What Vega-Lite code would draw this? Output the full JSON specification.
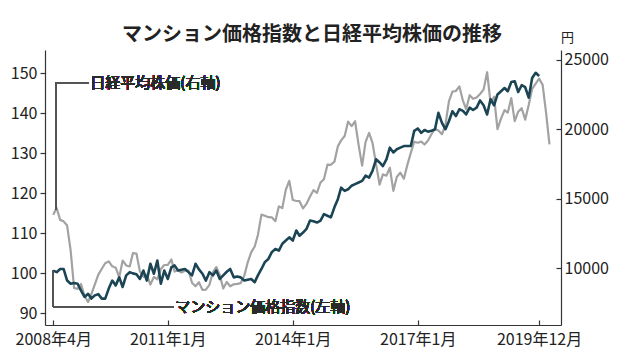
{
  "$schema": "https://vega.github.io/schema/vega-lite/v6.json",
  "width": 516,
  "height": 275,
  "autosize": {"type": "none"},
  "padding": {"left": 45, "top": 50, "right": 68, "bottom": 28},
  "background": "white",
  "config": {
    "view": {"stroke": null},
    "font": "Liberation Sans Narrow, Noto Sans CJK JP, sans-serif",
    "axis": {
      "domainColor": "#333",
      "tickColor": "#333",
      "labelColor": "#222",
      "labelFontSize": 16,
      "labelFont": "Liberation Sans Narrow, Noto Sans CJK JP, sans-serif",
      "grid": false,
      "domainWidth": 1.2,
      "tickWidth": 1.2
    }
  },
  "title": {
    "text": "マンション価格指数と日経平均株価の推移",
    "font": "Noto Sans CJK JP",
    "fontSize": 20,
    "fontWeight": "bold",
    "color": "#222",
    "anchor": "middle",
    "dx": 9,
    "dy": 20,
    "offset": 6
  },
  "datasets": {
    "nikkei": [
      {"date": "2008-04-01", "yen": 13849}, {"date": "2008-05-01", "yen": 14338}, {"date": "2008-06-01", "yen": 13481}, {"date": "2008-07-01", "yen": 13376}, {"date": "2008-08-01", "yen": 13072}, {"date": "2008-09-01", "yen": 11259}, {"date": "2008-10-01", "yen": 8576}, {"date": "2008-11-01", "yen": 8512}, {"date": "2008-12-01", "yen": 8859},
      {"date": "2009-01-01", "yen": 7994}, {"date": "2009-02-01", "yen": 7568}, {"date": "2009-03-01", "yen": 8109}, {"date": "2009-04-01", "yen": 8828}, {"date": "2009-05-01", "yen": 9522}, {"date": "2009-06-01", "yen": 9958}, {"date": "2009-07-01", "yen": 10356}, {"date": "2009-08-01", "yen": 10492}, {"date": "2009-09-01", "yen": 10133}, {"date": "2009-10-01", "yen": 10034}, {"date": "2009-11-01", "yen": 9345}, {"date": "2009-12-01", "yen": 10546},
      {"date": "2010-01-01", "yen": 10198}, {"date": "2010-02-01", "yen": 10126}, {"date": "2010-03-01", "yen": 11089}, {"date": "2010-04-01", "yen": 11057}, {"date": "2010-05-01", "yen": 9768}, {"date": "2010-06-01", "yen": 9382}, {"date": "2010-07-01", "yen": 9537}, {"date": "2010-08-01", "yen": 8824}, {"date": "2010-09-01", "yen": 9369}, {"date": "2010-10-01", "yen": 9202}, {"date": "2010-11-01", "yen": 9937}, {"date": "2010-12-01", "yen": 10228},
      {"date": "2011-01-01", "yen": 10237}, {"date": "2011-02-01", "yen": 10624}, {"date": "2011-03-01", "yen": 9755}, {"date": "2011-04-01", "yen": 9849}, {"date": "2011-05-01", "yen": 9693}, {"date": "2011-06-01", "yen": 9816}, {"date": "2011-07-01", "yen": 9833}, {"date": "2011-08-01", "yen": 8955}, {"date": "2011-09-01", "yen": 8700}, {"date": "2011-10-01", "yen": 8988}, {"date": "2011-11-01", "yen": 8434}, {"date": "2011-12-01", "yen": 8455},
      {"date": "2012-01-01", "yen": 8802}, {"date": "2012-02-01", "yen": 9723}, {"date": "2012-03-01", "yen": 10083}, {"date": "2012-04-01", "yen": 9520}, {"date": "2012-05-01", "yen": 8542}, {"date": "2012-06-01", "yen": 9006}, {"date": "2012-07-01", "yen": 8695}, {"date": "2012-08-01", "yen": 8839}, {"date": "2012-09-01", "yen": 8870}, {"date": "2012-10-01", "yen": 8928}, {"date": "2012-11-01", "yen": 9446}, {"date": "2012-12-01", "yen": 10395},
      {"date": "2013-01-01", "yen": 11138}, {"date": "2013-02-01", "yen": 11559}, {"date": "2013-03-01", "yen": 12397}, {"date": "2013-04-01", "yen": 13860}, {"date": "2013-05-01", "yen": 13774}, {"date": "2013-06-01", "yen": 13677}, {"date": "2013-07-01", "yen": 13668}, {"date": "2013-08-01", "yen": 13388}, {"date": "2013-09-01", "yen": 14455}, {"date": "2013-10-01", "yen": 14327}, {"date": "2013-11-01", "yen": 15661}, {"date": "2013-12-01", "yen": 16291},
      {"date": "2014-01-01", "yen": 14914}, {"date": "2014-02-01", "yen": 14841}, {"date": "2014-03-01", "yen": 14827}, {"date": "2014-04-01", "yen": 14304}, {"date": "2014-05-01", "yen": 14632}, {"date": "2014-06-01", "yen": 15162}, {"date": "2014-07-01", "yen": 15620}, {"date": "2014-08-01", "yen": 15424}, {"date": "2014-09-01", "yen": 16173}, {"date": "2014-10-01", "yen": 16413}, {"date": "2014-11-01", "yen": 17459}, {"date": "2014-12-01", "yen": 17450},
      {"date": "2015-01-01", "yen": 17674}, {"date": "2015-02-01", "yen": 18797}, {"date": "2015-03-01", "yen": 19206}, {"date": "2015-04-01", "yen": 19520}, {"date": "2015-05-01", "yen": 20563}, {"date": "2015-06-01", "yen": 20235}, {"date": "2015-07-01", "yen": 20585}, {"date": "2015-08-01", "yen": 18890}, {"date": "2015-09-01", "yen": 17388}, {"date": "2015-10-01", "yen": 19083}, {"date": "2015-11-01", "yen": 19747}, {"date": "2015-12-01", "yen": 19033},
      {"date": "2016-01-01", "yen": 17518}, {"date": "2016-02-01", "yen": 16026}, {"date": "2016-03-01", "yen": 16758}, {"date": "2016-04-01", "yen": 16666}, {"date": "2016-05-01", "yen": 17235}, {"date": "2016-06-01", "yen": 15575}, {"date": "2016-07-01", "yen": 16569}, {"date": "2016-08-01", "yen": 16887}, {"date": "2016-09-01", "yen": 16449}, {"date": "2016-10-01", "yen": 17425}, {"date": "2016-11-01", "yen": 18308}, {"date": "2016-12-01", "yen": 19114},
      {"date": "2017-01-01", "yen": 19041}, {"date": "2017-02-01", "yen": 19118}, {"date": "2017-03-01", "yen": 18909}, {"date": "2017-04-01", "yen": 19196}, {"date": "2017-05-01", "yen": 19650}, {"date": "2017-06-01", "yen": 20033}, {"date": "2017-07-01", "yen": 19925}, {"date": "2017-08-01", "yen": 19646}, {"date": "2017-09-01", "yen": 20356}, {"date": "2017-10-01", "yen": 22011}, {"date": "2017-11-01", "yen": 22724}, {"date": "2017-12-01", "yen": 22764},
      {"date": "2018-01-01", "yen": 23098}, {"date": "2018-02-01", "yen": 22068}, {"date": "2018-03-01", "yen": 21454}, {"date": "2018-04-01", "yen": 22467}, {"date": "2018-05-01", "yen": 22202}, {"date": "2018-06-01", "yen": 22305}, {"date": "2018-07-01", "yen": 22554}, {"date": "2018-08-01", "yen": 22865}, {"date": "2018-09-01", "yen": 24120}, {"date": "2018-10-01", "yen": 21920}, {"date": "2018-11-01", "yen": 22351}, {"date": "2018-12-01", "yen": 20015},
      {"date": "2019-01-01", "yen": 20773}, {"date": "2019-02-01", "yen": 21385}, {"date": "2019-03-01", "yen": 21206}, {"date": "2019-04-01", "yen": 22259}, {"date": "2019-05-01", "yen": 20601}, {"date": "2019-06-01", "yen": 21276}, {"date": "2019-07-01", "yen": 21522}, {"date": "2019-08-01", "yen": 20704}, {"date": "2019-09-01", "yen": 21756}, {"date": "2019-10-01", "yen": 22927}, {"date": "2019-11-01", "yen": 23294}, {"date": "2019-12-01", "yen": 23656},
      {"date": "2020-01-01", "yen": 23205}, {"date": "2020-02-01", "yen": 21143}, {"date": "2020-03-01", "yen": 18917}
    ],
    "index": [
      {"date": "2008-04-01", "idx": 100.7}, {"date": "2008-05-01", "idx": 100.3}, {"date": "2008-06-01", "idx": 101.1}, {"date": "2008-07-01", "idx": 101.1}, {"date": "2008-08-01", "idx": 98.2}, {"date": "2008-09-01", "idx": 97.4}, {"date": "2008-10-01", "idx": 97.6}, {"date": "2008-11-01", "idx": 97.4}, {"date": "2008-12-01", "idx": 95.7},
      {"date": "2009-01-01", "idx": 94.1}, {"date": "2009-02-01", "idx": 94.9}, {"date": "2009-03-01", "idx": 93.7}, {"date": "2009-04-01", "idx": 94.5}, {"date": "2009-05-01", "idx": 94.8}, {"date": "2009-06-01", "idx": 93.7}, {"date": "2009-07-01", "idx": 93.7}, {"date": "2009-08-01", "idx": 96.2}, {"date": "2009-09-01", "idx": 98.2}, {"date": "2009-10-01", "idx": 97.0}, {"date": "2009-11-01", "idx": 99.0}, {"date": "2009-12-01", "idx": 96.6},
      {"date": "2010-01-01", "idx": 99.5}, {"date": "2010-02-01", "idx": 100.3}, {"date": "2010-03-01", "idx": 100.0}, {"date": "2010-04-01", "idx": 99.8}, {"date": "2010-05-01", "idx": 98.6}, {"date": "2010-06-01", "idx": 100.7}, {"date": "2010-07-01", "idx": 98.2}, {"date": "2010-08-01", "idx": 102.4}, {"date": "2010-09-01", "idx": 99.9}, {"date": "2010-10-01", "idx": 103.2}, {"date": "2010-11-01", "idx": 97.4}, {"date": "2010-12-01", "idx": 100.7},
      {"date": "2011-01-01", "idx": 98.6}, {"date": "2011-02-01", "idx": 101.5}, {"date": "2011-03-01", "idx": 102.0}, {"date": "2011-04-01", "idx": 100.7}, {"date": "2011-05-01", "idx": 100.9}, {"date": "2011-06-01", "idx": 101.1}, {"date": "2011-07-01", "idx": 100.3}, {"date": "2011-08-01", "idx": 99.5}, {"date": "2011-09-01", "idx": 102.4}, {"date": "2011-10-01", "idx": 101.0}, {"date": "2011-11-01", "idx": 99.9}, {"date": "2011-12-01", "idx": 98.2},
      {"date": "2012-01-01", "idx": 100.3}, {"date": "2012-02-01", "idx": 99.5}, {"date": "2012-03-01", "idx": 100.7}, {"date": "2012-04-01", "idx": 98.6}, {"date": "2012-05-01", "idx": 99.5}, {"date": "2012-06-01", "idx": 100.4}, {"date": "2012-07-01", "idx": 101.1}, {"date": "2012-08-01", "idx": 99.0}, {"date": "2012-09-01", "idx": 99.2}, {"date": "2012-10-01", "idx": 99.0}, {"date": "2012-11-01", "idx": 98.2}, {"date": "2012-12-01", "idx": 98.4},
      {"date": "2013-01-01", "idx": 98.6}, {"date": "2013-02-01", "idx": 97.8}, {"date": "2013-03-01", "idx": 99.5}, {"date": "2013-04-01", "idx": 101.1}, {"date": "2013-05-01", "idx": 102.8}, {"date": "2013-06-01", "idx": 103.6}, {"date": "2013-07-01", "idx": 105.3}, {"date": "2013-08-01", "idx": 106.1}, {"date": "2013-09-01", "idx": 105.7}, {"date": "2013-10-01", "idx": 107.4}, {"date": "2013-11-01", "idx": 108.2}, {"date": "2013-12-01", "idx": 109.0},
      {"date": "2014-01-01", "idx": 108.2}, {"date": "2014-02-01", "idx": 110.7}, {"date": "2014-03-01", "idx": 109.4}, {"date": "2014-04-01", "idx": 110.2}, {"date": "2014-05-01", "idx": 111.1}, {"date": "2014-06-01", "idx": 113.2}, {"date": "2014-07-01", "idx": 113.0}, {"date": "2014-08-01", "idx": 112.7}, {"date": "2014-09-01", "idx": 113.2}, {"date": "2014-10-01", "idx": 114.8}, {"date": "2014-11-01", "idx": 114.4}, {"date": "2014-12-01", "idx": 114.0},
      {"date": "2015-01-01", "idx": 116.5}, {"date": "2015-02-01", "idx": 118.6}, {"date": "2015-03-01", "idx": 121.4}, {"date": "2015-04-01", "idx": 120.6}, {"date": "2015-05-01", "idx": 121.0}, {"date": "2015-06-01", "idx": 121.9}, {"date": "2015-07-01", "idx": 122.3}, {"date": "2015-08-01", "idx": 122.7}, {"date": "2015-09-01", "idx": 123.1}, {"date": "2015-10-01", "idx": 124.4}, {"date": "2015-11-01", "idx": 123.9}, {"date": "2015-12-01", "idx": 125.6},
      {"date": "2016-01-01", "idx": 128.5}, {"date": "2016-02-01", "idx": 127.7}, {"date": "2016-03-01", "idx": 126.8}, {"date": "2016-04-01", "idx": 128.5}, {"date": "2016-05-01", "idx": 131.4}, {"date": "2016-06-01", "idx": 130.2}, {"date": "2016-07-01", "idx": 131.0}, {"date": "2016-08-01", "idx": 131.4}, {"date": "2016-09-01", "idx": 131.8}, {"date": "2016-10-01", "idx": 131.8}, {"date": "2016-11-01", "idx": 131.8}, {"date": "2016-12-01", "idx": 135.6},
      {"date": "2017-01-01", "idx": 136.2}, {"date": "2017-02-01", "idx": 135.1}, {"date": "2017-03-01", "idx": 135.8}, {"date": "2017-04-01", "idx": 135.4}, {"date": "2017-05-01", "idx": 135.6}, {"date": "2017-06-01", "idx": 136.0}, {"date": "2017-07-01", "idx": 140.1}, {"date": "2017-08-01", "idx": 137.6}, {"date": "2017-09-01", "idx": 136.0}, {"date": "2017-10-01", "idx": 138.0}, {"date": "2017-11-01", "idx": 140.5}, {"date": "2017-12-01", "idx": 139.3},
      {"date": "2018-01-01", "idx": 141.0}, {"date": "2018-02-01", "idx": 140.6}, {"date": "2018-03-01", "idx": 139.7}, {"date": "2018-04-01", "idx": 141.4}, {"date": "2018-05-01", "idx": 140.8}, {"date": "2018-06-01", "idx": 141.4}, {"date": "2018-07-01", "idx": 143.2}, {"date": "2018-08-01", "idx": 142.0}, {"date": "2018-09-01", "idx": 139.7}, {"date": "2018-10-01", "idx": 143.5}, {"date": "2018-11-01", "idx": 142.0}, {"date": "2018-12-01", "idx": 144.7},
      {"date": "2019-01-01", "idx": 145.5}, {"date": "2019-02-01", "idx": 146.3}, {"date": "2019-03-01", "idx": 145.5}, {"date": "2019-04-01", "idx": 147.8}, {"date": "2019-05-01", "idx": 148.0}, {"date": "2019-06-01", "idx": 145.3}, {"date": "2019-07-01", "idx": 147.0}, {"date": "2019-08-01", "idx": 146.5}, {"date": "2019-09-01", "idx": 143.9}, {"date": "2019-10-01", "idx": 148.8}, {"date": "2019-11-01", "idx": 150.1}, {"date": "2019-12-01", "idx": 149.3}
    ]
  },
  "layer": [
    {
      "data": {"name": "nikkei"},
      "layer": [
        {
          "mark": {"type": "line", "color": "#a2a2a2", "strokeWidth": 2.2, "strokeJoin": "round"},
          "encoding": {
            "x": {
              "field": "date", "type": "temporal",
              "scale": {"domain": [{"year": 2008, "month": 1, "date": 20}, {"year": 2020, "month": 6, "date": 10}]},
              "axis": {
                "title": null,
                "values": [{"year": 2008, "month": 4, "date": 1}, {"year": 2011, "month": 1, "date": 1}, {"year": 2014, "month": 1, "date": 1}, {"year": 2017, "month": 1, "date": 1}, {"year": 2019, "month": 12, "date": 1}],
                "labelExpr": "timeFormat(datum.value, '%Y') + '年' + (month(datum.value) + 1) + '月'",
                "tickSize": -5,
                "labelPadding": 11,
                "labelFlush": false
              }
            },
            "y": {
              "field": "yen", "type": "quantitative",
              "scale": {"domain": [5907, 25720], "nice": false, "zero": false},
              "axis": {
                "orient": "right",
                "values": [10000, 15000, 20000, 25000],
                "format": "d",
                "tickSize": -5,
                "labelPadding": 8,
                "title": "円",
                "titleAngle": 0,
                "titleFont": "Noto Sans CJK JP",
                "titleFontSize": 13,
                "titleFontWeight": "normal",
                "titleColor": "#222",
                "titleX": 6,
                "titleY": -13,
                "titleAlign": "center",
                "titleBaseline": "middle"
              }
            }
          }
        },
        {
          "mark": {"type": "rule", "color": "#555", "strokeWidth": 1.2},
          "encoding": {
            "x": {"datum": {"year": 2008, "month": 4, "date": 24}, "type": "temporal"},
            "x2": {"datum": {"year": 2008, "month": 4, "date": 24}},
            "y": {"datum": 14200, "type": "quantitative"},
            "y2": {"datum": 23320}
          }
        },
        {
          "mark": {"type": "rule", "color": "#555", "strokeWidth": 1.2},
          "encoding": {
            "x": {"datum": {"year": 2008, "month": 4, "date": 24}, "type": "temporal"},
            "x2": {"datum": {"year": 2009, "month": 2, "date": 3}},
            "y": {"datum": 23320, "type": "quantitative"}
          }
        },
        {
          "mark": {"type": "text", "text": "日経平均株価(右軸)", "align": "left", "baseline": "middle", "dx": 2, "font": "Noto Sans CJK JP", "fontSize": 15, "fontWeight": 400, "color": "#2a2a2a"},
          "encoding": {
            "x": {"datum": {"year": 2009, "month": 2, "date": 3}, "type": "temporal"},
            "y": {"datum": 23320, "type": "quantitative"}
          }
        }
      ]
    },
    {
      "data": {"name": "index"},
      "layer": [
        {
          "mark": {"type": "line", "color": "#1b4555", "strokeWidth": 2.6, "strokeJoin": "round"},
          "encoding": {
            "x": {"field": "date", "type": "temporal"},
            "y": {
              "field": "idx", "type": "quantitative",
              "scale": {"domain": [87.1, 155.8], "nice": false, "zero": false},
              "axis": {
                "orient": "left",
                "values": [90, 100, 110, 120, 130, 140, 150],
                "tickSize": 5,
                "labelPadding": 3,
                "title": null
              }
            }
          }
        },
        {
          "mark": {"type": "rule", "color": "#555", "strokeWidth": 1.2},
          "encoding": {
            "x": {"datum": {"year": 2008, "month": 4, "date": 1}, "type": "temporal"},
            "x2": {"datum": {"year": 2008, "month": 4, "date": 1}},
            "y": {"datum": 100.7, "type": "quantitative"},
            "y2": {"datum": 91.65}
          }
        },
        {
          "mark": {"type": "rule", "color": "#555", "strokeWidth": 1.2},
          "encoding": {
            "x": {"datum": {"year": 2008, "month": 4, "date": 1}, "type": "temporal"},
            "x2": {"datum": {"year": 2011, "month": 2, "date": 17}},
            "y": {"datum": 91.65, "type": "quantitative"}
          }
        },
        {
          "mark": {"type": "text", "text": "マンション価格指数(左軸)", "align": "left", "baseline": "middle", "dx": 2, "font": "Noto Sans CJK JP", "fontSize": 15, "fontWeight": 400, "color": "#2a2a2a"},
          "encoding": {
            "x": {"datum": {"year": 2011, "month": 2, "date": 17}, "type": "temporal"},
            "y": {"datum": 91.65, "type": "quantitative"}
          }
        }
      ]
    }
  ],
  "resolve": {"scale": {"y": "independent"}}
}
